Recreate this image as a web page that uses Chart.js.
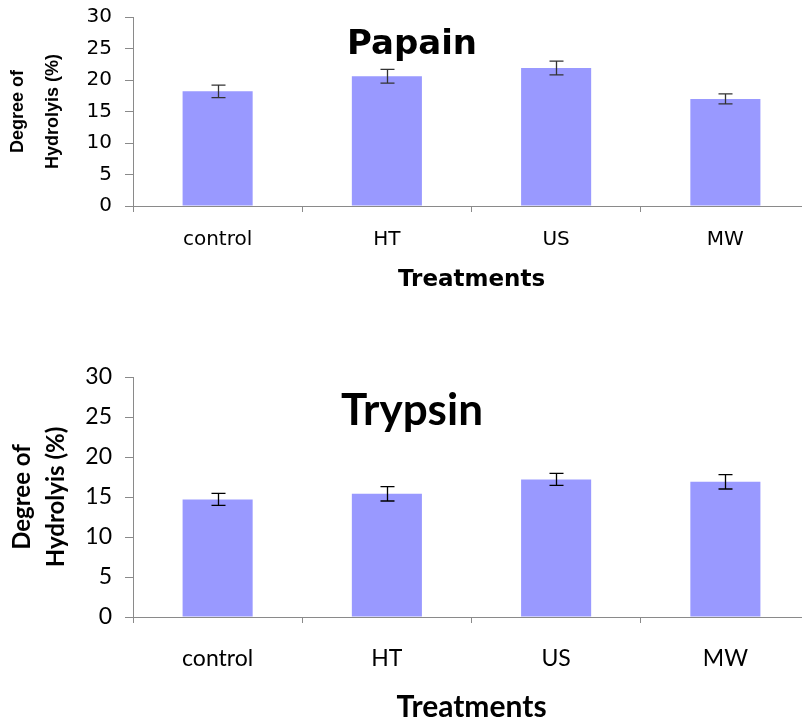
<!DOCTYPE html>
<html>
<head>
<meta charset="utf-8">
<script src="https://cdn.jsdelivr.net/npm/chart.js@4.4.1/dist/chart.umd.min.js"></script>
<style>
  html, body { margin: 0; padding: 0; background: #fff; overflow: hidden; }
  .wrap { position: absolute; left: 0; }
</style>
</head>
<body>
<div class="wrap" style="top:0"><canvas id="papainChart" width="812" height="340"></canvas></div>
<div class="wrap" style="top:340px"><canvas id="trypsinChart" width="812" height="382"></canvas></div>
<script>
const treatments = ["control", "HT", "US", "MW"];
const yTicks = [0, 5, 10, 15, 20, 25, 30];

const papainValues = [18.2, 20.6, 21.9, 17.0];
const papainErrors = [1.0, 1.1, 1.1, 0.8];

const trypsinValues = [14.7, 15.4, 17.2, 16.9];
const trypsinErrors = [0.75, 0.9, 0.75, 0.9];

const barColor = "#9999FF";
const axisColor = "#8a8a8a";

// error bars drawn from the y scale
const errorBars = {
  id: "errorBars",
  afterDatasetsDraw(chart, args, opts) {
    const ctx = chart.ctx;
    const yScale = chart.scales.y;
    const meta = chart.getDatasetMeta(0);
    const values = chart.data.datasets[0].data;
    ctx.save();
    ctx.strokeStyle = opts.color;
    ctx.lineWidth = 1.3;
    meta.data.forEach((bar, i) => {
      const x = Math.round(bar.x) + 0.5;
      const yTop = yScale.getPixelForValue(values[i] + opts.errors[i]);
      const yBot = yScale.getPixelForValue(values[i] - opts.errors[i]);
      ctx.beginPath();
      ctx.moveTo(x, yTop);
      ctx.lineTo(x, yBot);
      ctx.moveTo(x - 7, yTop);
      ctx.lineTo(x + 7, yTop);
      ctx.moveTo(x - 7, yBot);
      ctx.lineTo(x + 7, yBot);
      ctx.stroke();
    });
    ctx.restore();
  },
};

// title drawn inside the plot like the original
const innerTitle = {
  id: "innerTitle",
  afterDraw(chart, args, opts) {
    const ctx = chart.ctx;
    ctx.save();
    ctx.font = opts.font;
    ctx.fillStyle = "#000";
    ctx.textAlign = "center";
    ctx.textBaseline = "alphabetic";
    ctx.fillText(opts.text, opts.x, opts.y);
    ctx.restore();
  },
};

const makeChart = (canvasId, values, errors, cfg) => {
  const canvas = document.getElementById(canvasId);
  const ctx = canvas.getContext("2d");
  return new Chart(ctx, {
    type: "bar",
    data: {
      labels: treatments,
      datasets: [
        {
          data: values,
          backgroundColor: barColor,
          borderWidth: 0,
          categoryPercentage: 1,
          barPercentage: 0.414,
        },
      ],
    },
    options: {
      responsive: false,
      animation: false,
      layout: {
        padding: { top: cfg.padTop, bottom: cfg.padBottom, left: 0, right: 2 },
      },
      plugins: {
        legend: { display: false },
        tooltip: { enabled: false },
        errorBars: { errors: errors, color: cfg.errColor },
        innerTitle: cfg.title,
      },
      scales: {
        x: {
          grid: {
            offset: true,
            drawOnChartArea: false,
            drawTicks: true,
            tickLength: 6,
            color: axisColor,
          },
          border: { display: true, color: axisColor, width: 1 },
          ticks: {
            color: "#000",
            padding: cfg.xPad,
            font: cfg.tickFont,
          },
          title: {
            display: true,
            text: "Treatments",
            color: "#000",
            font: cfg.xTitleFont,
            padding: { top: 0, bottom: cfg.xTitlePad },
          },
          afterFit: (scale) => {
            scale.height = cfg.xHeight;
            scale.paddingLeft = 0;
            scale.paddingRight = 0;
          },
        },
        y: {
          min: 0,
          max: 30,
          afterBuildTicks: (scale) => {
            scale.ticks = yTicks.map((v) => ({ value: v }));
          },
          grid: {
            drawOnChartArea: false,
            drawTicks: true,
            tickLength: 8,
            color: axisColor,
          },
          border: { display: true, color: axisColor, width: 1 },
          ticks: {
            color: "#000",
            padding: 13,
            font: cfg.tickFont,
          },
          title: {
            display: true,
            text: ["Degree of", "Hydrolyis (%)"],
            color: "#000",
            font: cfg.yTitleFont,
            padding: { top: cfg.yTitlePad, bottom: 0 },
          },
          afterFit: (scale) => {
            scale.width = 133;
            scale.paddingTop = 0;
            scale.paddingBottom = 0;
          },
        },
      },
    },
    plugins: [errorBars, innerTitle],
  });
};

makeChart("papainChart", papainValues, papainErrors, {
  padTop: 17,
  padBottom: 40,
  xHeight: 94,
  xPad: 16,
  xTitlePad: 6,
  yTitlePad: 1,
  errColor: "#333",
  tickFont: { family: "DejaVu Sans", size: 20 },
  xTitleFont: { family: "DejaVu Sans", size: 23, weight: "bold" },
  yTitleFont: { family: "Liberation Sans", size: 18, weight: "bold", lineHeight: 1.92 },
  title: { text: "Papain", font: "bold 34px 'DejaVu Sans'", x: 412, y: 54 },
});

makeChart("trypsinChart", trypsinValues, trypsinErrors, {
  padTop: 37,
  padBottom: 0,
  xHeight: 105,
  xPad: 22,
  xTitlePad: 0,
  yTitlePad: 5,
  errColor: "#000",
  tickFont: { family: "Lato", size: 23 },
  xTitleFont: { family: "Lato", size: 30, weight: "bold", lineHeight: 1.0 },
  yTitleFont: { family: "Lato", size: 24, weight: "bold", lineHeight: 1.42 },
  title: { text: "Trypsin", font: "bold 44px Lato", x: 412, y: 85 },
});
</script>
</body>
</html>
